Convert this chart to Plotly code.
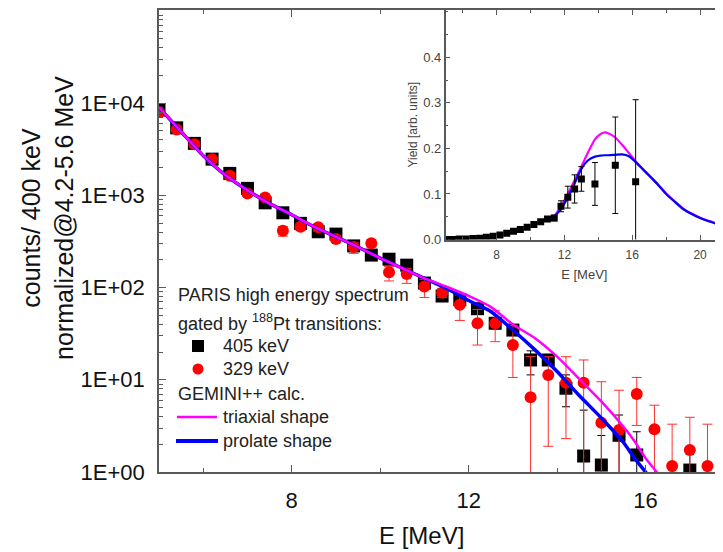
import plotly.graph_objects as go

# ---------------- data ----------------
E_bins = [5.0, 5.4, 5.8, 6.2, 6.6, 7.0, 7.4, 7.8, 8.2, 8.6, 9.0, 9.4, 9.8, 10.2, 10.6,
          11.0, 11.4, 11.8, 12.2, 12.6, 13.0, 13.4, 13.8, 14.2, 14.6, 15.0, 15.4, 15.8,
          16.2, 16.6, 17.0, 17.4, 17.8]

counts_405 = [8400, 5400, 3660, 2470, 1730, 1190, 830, 647, 497, 403, 380, 283, 225, 203, 175,
              112, 81, 74, 59, 41, 34.6, 16.4, 16.4, 8.1, 1.49, 1.19, 2.5, 1.53,
              None, None, 1.05, None, 1.19]
err_up_405 = [250, 160, 110, 75, 50, 35, 25, 20, 15, 12, 11, 9, 7, 6, 6,
              5, 4, 4, 3.5, 3, 3, 4.2, 1.5, 3.2, 3.2, 1.3, 1.65, 1.2,
              0, 0, 0.5, 0, 1.0]
err_dn_405 = [250, 160, 110, 75, 50, 35, 25, 20, 15, 12, 11, 9, 7, 6, 6,
              5, 4, 4, 3.5, 3, 3, 5.1, 1.5, 3.0, 1.49, 1.19, 2.5, 1.53,
              0, 0, 1.05, 0, 1.19]

counts_329 = [8000, 5190, 3590, 2470, 1630, 1050, 950, 413, 456, 450, 337, 275, 303, 147, 140,
              103, 88, 65, 41, 41, 23.8, 6.45, 11.3, 9.3, 9.3, 3.42, 2.85, 7.0,
              2.9, 1.16, 1.73, 1.16, 1.73]
err_up_329 = [400, 300, 220, 160, 110, 75, 70, 45, 40, 38, 30, 30, 28, 22, 22,
              20, 10, 18, 17, 15, 15.2, 11.4, 6.5, 8.5, 7.1, 6.1, 4.85, 3.6,
              2.4, 2.14, 2.19, 2.14, 1.8]
err_dn_329 = [400, 300, 220, 160, 110, 75, 70, 52, 40, 38, 30, 40, 28, 29, 29,
              25, 10, 21, 17.2, 15.1, 13.2, 6.45, 9.4, 7.0, 9.3, 3.42, 2.85, 3.8,
              2.9, 1.16, 1.73, 1.16, 1.73]

calc_E = [5.0, 5.5, 6.0, 6.5, 7.0, 7.5, 8.0, 8.5, 9.0, 9.5, 10.0, 10.5, 11.0, 11.5,
          12.0, 12.5, 13.0, 13.5, 14.0, 14.5, 15.0, 15.5, 15.75, 16.0, 16.25, 16.5]
prolate = [9000, 4900, 2690, 1660, 1135, 813, 617, 457, 355, 275, 209, 162, 126, 97.7,
           72.4, 55.0, 34.7, 21.1, 12.3, 6.76, 3.85, 2.09, 1.41, 1.0, 0.68, 0.45]
triaxial = [9000, 4900, 2690, 1660, 1135, 813, 617, 457, 355, 275, 209, 162, 126, 102,
            81.3, 61.7, 39.8, 28.2, 17.8, 10.2, 5.82, 3.09, 2.16, 1.41, 1.0, 0.7]

y_tickvals = [1, 10, 100, 1000, 10000]
y_ticktext = ["1E+00", "1E+01", "1E+02", "1E+03", "1E+04"]

# inset
inset_E = [5.0, 5.4, 5.8, 6.2, 6.6, 7.0, 7.4, 7.8, 8.2, 8.6, 9.0, 9.4, 9.8, 10.2, 10.6,
           11.0, 11.4, 11.8, 12.2, 12.6, 13.0, 13.8, 15.0, 16.2]
inset_yield = [0.0, 0.0, 0.001, 0.001, 0.002, 0.003, 0.005, 0.007, 0.010, 0.014, 0.018,
               0.022, 0.027, 0.033, 0.039, 0.045, 0.047, 0.073, 0.093, 0.111, 0.133,
               0.122, 0.163, 0.127]
inset_err = [0, 0, 0, 0, 0, 0, 0, 0, 0.001, 0.001, 0.001, 0.001, 0.002, 0.002, 0.003,
             0.004, 0.006, 0.012, 0.024, 0.031, 0.027, 0.047, 0.106, 0.18]

inset_calc_E = [11.0, 11.4, 11.8, 12.2, 12.6, 13.0, 13.4, 13.8, 14.1, 14.35, 14.6, 15.0,
                15.4, 15.8, 16.2, 16.6, 17.0, 17.5, 18.0, 18.5, 19.0, 19.5, 20.0, 20.5,
                21.0, 21.4]
inset_prolate = [0.040, 0.050, 0.068, 0.092, 0.123, 0.155, 0.174, 0.182, 0.184, 0.185,
                 0.185, 0.186, 0.187, 0.183, 0.170, 0.155, 0.140, 0.121, 0.100, 0.083,
                 0.067, 0.056, 0.047, 0.040, 0.034, 0.029]
inset_triaxial = [0.040, 0.052, 0.073, 0.100, 0.130, 0.160, 0.192, 0.220, 0.231, 0.235,
                  0.233, 0.224, 0.208, 0.190, 0.172, 0.156, 0.141, 0.122, 0.101, 0.084,
                  0.068, 0.057, 0.048, 0.041, 0.035, 0.030]
inset_y_tickvals = [0.0, 0.1, 0.2, 0.3, 0.4]
inset_y_ticktext = ["0.0", "0.1", "0.2", "0.3", "0.4"]

# ---------------- layout helpers ----------------
# the page body keeps its default 8 px margin, so the figure is drawn 8 px in
OFF = 8
W, H = 723 - OFF, 552 - OFF
ML, MR, MT, MB = 159 - OFF, 0, 10 - OFF, 80
PW, PH = W - ML - MR, H - MT - MB


def px(x):
    """page pixel x -> paper fraction"""
    return (x - OFF - ML) / PW


def py(y):
    """page pixel y -> paper fraction"""
    return (H - MB - (y - OFF)) / PH


FONT = "Liberation Sans, Arial, sans-serif"
AXC = "#5a5a5a"

fig = go.Figure()

# ---------------- main plot ----------------
fig.add_trace(go.Scatter(
    x=E_bins, y=counts_405, mode="markers", name="405 keV", showlegend=False,
    marker=dict(symbol="square", size=13, color="black"),
    error_y=dict(type="data", symmetric=False, array=err_up_405, arrayminus=err_dn_405,
                 color="black", thickness=1, width=4)))
fig.add_trace(go.Scatter(
    x=E_bins, y=counts_329, mode="markers", name="329 keV", showlegend=False,
    marker=dict(symbol="circle", size=12, color="#ff0000"),
    error_y=dict(type="data", symmetric=False, array=err_up_329, arrayminus=err_dn_329,
                 color="#ff3030", thickness=1, width=5)))
fig.add_trace(go.Scatter(
    x=calc_E, y=prolate, mode="lines", name="prolate shape", showlegend=False,
    line=dict(color="#0000ff", width=3.5, shape="spline", smoothing=0.6)))
fig.add_trace(go.Scatter(
    x=calc_E, y=triaxial, mode="lines", name="triaxial shape", showlegend=False,
    line=dict(color="#ff00ff", width=2.5, shape="spline", smoothing=0.6)))

# ---------------- inset ----------------
fig.add_trace(go.Scatter(
    x=inset_calc_E, y=inset_triaxial, mode="lines", xaxis="x2", yaxis="y2",
    showlegend=False, name="triaxial shape",
    line=dict(color="#ff00ff", width=2.2, shape="spline", smoothing=0.6)))
fig.add_trace(go.Scatter(
    x=inset_calc_E, y=inset_prolate, mode="lines", xaxis="x2", yaxis="y2",
    showlegend=False, name="prolate shape",
    line=dict(color="#0000ff", width=2.2, shape="spline", smoothing=0.6)))
fig.add_trace(go.Scatter(
    x=inset_E, y=inset_yield, mode="markers", xaxis="x2", yaxis="y2",
    showlegend=False, name="405 keV",
    marker=dict(symbol="square", size=7, color="black"),
    error_y=dict(type="data", array=inset_err, color="black", thickness=1, width=3)))

axis_common = dict(showline=True, linecolor=AXC, linewidth=1.5, ticks="inside",
                   tickcolor=AXC, showgrid=False, zeroline=False)

fig.update_layout(
    width=W, height=H,
    margin=dict(l=ML, r=MR, t=MT, b=MB, autoexpand=False),
    paper_bgcolor="white", plot_bgcolor="white",
    font=dict(family=FONT, color="#111111"),
    xaxis=dict(domain=[0, 1], range=[5, 17.75], tick0=0, dtick=4, ticklen=7,
               mirror="ticks", tickfont=dict(size=22, color="#111111"),
               ticklabelstandoff=8,
               minor=dict(ticks="inside", dtick=2, tick0=0, ticklen=4, tickcolor=AXC),
               **axis_common),
    yaxis=dict(domain=[0, 1], type="log", range=[0, 5.01], tickvals=y_tickvals,
               ticktext=y_ticktext, ticklen=7, tickfont=dict(size=22, color="#111111"),
               ticklabelstandoff=8,
               minor=dict(ticks="inside", ticklen=4, dtick="D1", tickcolor=AXC),
               **axis_common),
    xaxis2=dict(domain=[px(445.7), 1], anchor="y2", range=[5, 21.35], tick0=0, dtick=4,
                ticklen=5, mirror="ticks", tickfont=dict(size=12, color="#444444"),
                ticklabelstandoff=3,
                minor=dict(ticks="inside", dtick=2, tick0=0, ticklen=3, tickcolor=AXC),
                title=dict(text="E [MeV]", font=dict(size=13, color="#444444"), standoff=9),
                **axis_common),
    yaxis2=dict(domain=[py(239.5), 1], anchor="x2", range=[0, 0.504],
                tickvals=inset_y_tickvals, ticktext=inset_y_ticktext, ticklen=5,
                tickfont=dict(size=13, color="#444444"),
                minor=dict(ticks="inside", dtick=0.05, tick0=0, ticklen=3, tickcolor=AXC),
                title=dict(text="Yield [arb. units]", font=dict(size=12, color="#444444"),
                           standoff=3),
                **axis_common),
)

# axis titles of the main plot
fig.add_annotation(text="counts/ 400 keV<br>normalized@4.2-5.6 MeV", textangle=-90,
                   x=px(48), y=py(218), xref="paper", yref="paper", showarrow=False,
                   xanchor="center", yanchor="middle", font=dict(size=25, color="#111111"))
fig.add_annotation(text="E [MeV]", x=px(421), y=py(535), xref="paper", yref="paper",
                   showarrow=False, xanchor="center", yanchor="middle",
                   font=dict(size=24, color="#111111"))

# ---------------- hand-drawn legend ----------------
LEG_FONT = dict(size=18, color="#222222")
legend_lines = [
    ("PARIS high energy spectrum", 176, 295),
    ("gated by <sup>188</sup>Pt transitions:", 176, 322),
    ("405 keV", 221, 346),
    ("329 keV", 221, 369),
    ("GEMINI++ calc.", 176, 394),
    ("triaxial shape", 221, 417),
    ("prolate shape", 221, 441),
]
for txt, lx, ly in legend_lines:
    fig.add_annotation(text=txt, x=px(lx), y=py(ly), xref="paper", yref="paper",
                       showarrow=False, xanchor="left", yanchor="middle", font=LEG_FONT)

fig.add_shape(type="rect", xref="paper", yref="paper",
              x0=px(192), x1=px(204), y0=py(352), y1=py(340),
              fillcolor="black", line=dict(width=0))
fig.add_shape(type="circle", xref="paper", yref="paper",
              x0=px(192.5), x1=px(203.5), y0=py(374.5), y1=py(363.5),
              fillcolor="#ff0000", line=dict(width=0))
fig.add_shape(type="line", xref="paper", yref="paper",
              x0=px(177), x1=px(217), y0=py(417), y1=py(417),
              line=dict(color="#ff00ff", width=2.5))
fig.add_shape(type="line", xref="paper", yref="paper",
              x0=px(176), x1=px(218), y0=py(441), y1=py(441),
              line=dict(color="#0000ff", width=4))

fig.write_html("out.html")
